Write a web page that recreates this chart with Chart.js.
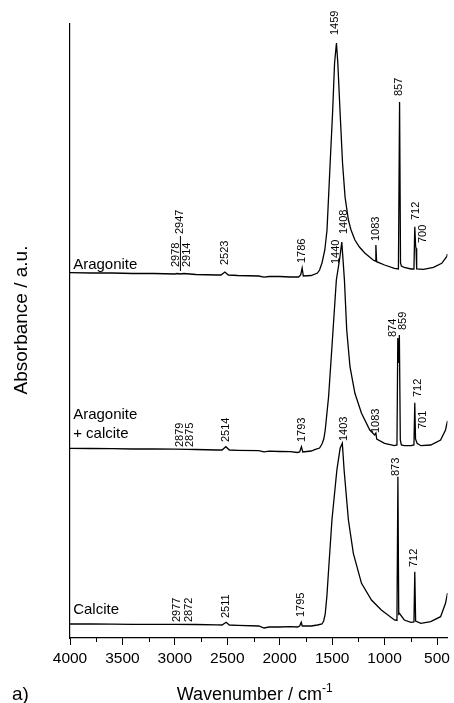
<!DOCTYPE html>
<html>
<head>
<meta charset="utf-8">
<script src="https://cdn.jsdelivr.net/npm/chart.js@4.4.0/dist/chart.umd.min.js"></script>
<style>
  html, body { margin: 0; padding: 0; background: #fff; }
  #wrap { width: 454px; height: 703px; }
</style>
</head>
<body>
<div id="wrap"><canvas id="myChart" width="454" height="703"></canvas></div>
<script>
// spectra (wavenumber / cm-1, absorbance a.u. with the stacking offset)
const aragoniteWn = [4000, 3800, 3600, 3400, 3200, 3000, 2978, 2947, 2914, 2800, 2600, 2560, 2523, 2490, 2400, 2200, 2150, 2100, 2000, 1900, 1820, 1800, 1786, 1775, 1700, 1640, 1620, 1597, 1570, 1549, 1519, 1496, 1477, 1459, 1446, 1424, 1401, 1377, 1345, 1320, 1283, 1240, 1189, 1109, 1090, 1083, 1076, 1000, 906, 868, 857, 848, 840, 812, 748, 720, 712, 704, 700, 694, 628, 534, 455, 408, 400];
const aragoniteAbs = [3.653, 3.65, 3.65, 3.645, 3.645, 3.64, 3.645, 3.64, 3.645, 3.635, 3.63, 3.63, 3.66, 3.63, 3.625, 3.62, 3.608, 3.615, 3.615, 3.61, 3.61, 3.63, 3.70, 3.62, 3.625, 3.65, 3.68, 3.75, 3.88, 4.08, 4.75, 5.25, 5.75, 5.95, 5.75, 5.25, 4.75, 4.41, 4.18, 4.08, 3.98, 3.91, 3.85, 3.78, 3.77, 3.93, 3.763, 3.73, 3.697, 3.69, 5.36, 3.75, 3.72, 3.707, 3.69, 3.69, 4.113, 3.92, 3.897, 3.69, 3.687, 3.707, 3.747, 3.813, 3.84];

const mixedWn = [4000, 3800, 3600, 3400, 3200, 3000, 2879, 2800, 2600, 2550, 2514, 2480, 2400, 2200, 2150, 2100, 2000, 1900, 1830, 1810, 1793, 1780, 1700, 1660, 1620, 1597, 1580, 1566, 1534, 1502, 1460, 1430, 1408, 1383, 1361, 1330, 1283, 1220, 1141, 1095, 1083, 1075, 1000, 906, 882, 874, 866, 859, 850, 840, 812, 748, 720, 712, 705, 690, 654, 560, 466, 419, 400];
const mixedAbs = [1.897, 1.895, 1.893, 1.89, 1.89, 1.888, 1.887, 1.885, 1.88, 1.88, 1.913, 1.88, 1.877, 1.873, 1.862, 1.868, 1.865, 1.863, 1.855, 1.86, 1.913, 1.86, 1.87, 1.887, 1.90, 1.94, 1.99, 2.08, 2.413, 2.913, 3.58, 3.78, 3.96, 3.58, 3.08, 2.713, 2.447, 2.247, 2.08, 2.03, 2.05, 1.99, 1.947, 1.923, 1.93, 3.00, 2.75, 3.03, 1.98, 1.93, 1.923, 1.923, 1.93, 2.353, 1.99, 1.947, 1.923, 1.93, 1.98, 2.08, 2.17];

const calciteWn = [4000, 3800, 3600, 3400, 3200, 3000, 2800, 2600, 2550, 2511, 2480, 2400, 2200, 2150, 2100, 2000, 1900, 1830, 1810, 1795, 1785, 1700, 1640, 1597, 1581, 1566, 1550, 1534, 1502, 1455, 1424, 1403, 1386, 1345, 1298, 1220, 1125, 1031, 906, 882, 873, 865, 859, 812, 748, 720, 712, 704, 654, 560, 466, 419, 400];
const calciteAbs = [0.14, 0.14, 0.138, 0.137, 0.137, 0.137, 0.135, 0.132, 0.13, 0.157, 0.13, 0.127, 0.12, 0.1, 0.11, 0.11, 0.113, 0.11, 0.12, 0.157, 0.12, 0.12, 0.13, 0.14, 0.17, 0.24, 0.42, 0.68, 1.18, 1.68, 1.897, 1.947, 1.68, 1.18, 0.847, 0.547, 0.38, 0.28, 0.18, 0.175, 1.613, 0.24, 0.247, 0.18, 0.157, 0.16, 0.663, 0.17, 0.147, 0.163, 0.213, 0.347, 0.45];

// axis ticks
const xTickValues = [4000, 3500, 3000, 2500, 2000, 1500, 1000, 500];
const xMinorTicks = [3750, 3250, 2750, 2250, 1750, 1250, 750];

// peak labels: text, wavenumber where it stands, absorbance at its lower end
const aragoniteLabels = [['1459', 1474, 6.03], ['857', 862, 5.42], ['712', 701, 4.18], ['700', 638, 3.95], ['1083', 1085, 3.97], ['1786', 1785, 3.75], ['2523', 2523, 3.73], ['2978', 2994, 3.71], ['2947', 2947, 4.04], ['2914', 2885, 3.71]];
const mixedLabels = [['1440', 1460, 3.74], ['1408', 1392, 4.04], ['874', 921, 3.01], ['859', 827, 3.08], ['712', 685, 2.41], ['701', 638, 2.09], ['1083', 1085, 2.05], ['1793', 1785, 1.96], ['2514', 2508, 1.96], ['2879', 2947, 1.91], ['2875', 2860, 1.91]];
const calciteLabels = [['1403', 1392, 1.97], ['873', 890, 1.62], ['712', 717, 0.71], ['1795', 1801, 0.21], ['2511', 2508, 0.20], ['2977', 2979, 0.16], ['2872', 2869, 0.16]];

// sample names
const sampleNames = [['Aragonite', 3.69], ['Aragonite', 2.19], ['+ calcite', 2.00], ['Calcite', 0.24]];
const sampleNameWn = 3970;

const FONT = '"Liberation Sans", Arial, Helvetica, sans-serif';
Chart.defaults.font.family = FONT;
Chart.defaults.color = '#000';

function toPoints(wn, abs) {
    let pts = [];
    for (let i = 0; i < wn.length; i++) {
        pts.push({ x: wn[i], y: abs[i] });
    }
    return pts;
}

const annotations = {
    id: 'annotations',
    afterDatasetsDraw(chart) {
        const { ctx, scales: { x, y } } = chart;
        ctx.save();
        ctx.fillStyle = '#000';
        ctx.strokeStyle = '#000';

        // rotated peak labels
        ctx.font = '11px ' + FONT;
        ctx.textAlign = 'left';
        ctx.textBaseline = 'middle';
        const all = aragoniteLabels.concat(mixedLabels, calciteLabels);
        all.forEach(([t, wn, v]) => {
            ctx.save();
            ctx.translate(x.getPixelForValue(wn), y.getPixelForValue(v));
            ctx.rotate(-Math.PI / 2);
            ctx.fillText(t, 0, 0);
            ctx.restore();
        });

        // leader line under 2947
        ctx.lineWidth = 1;
        ctx.beginPath();
        ctx.moveTo(x.getPixelForValue(2947), y.getPixelForValue(4.02));
        ctx.lineTo(x.getPixelForValue(2947), y.getPixelForValue(3.67));
        ctx.stroke();

        // sample names
        ctx.font = '15px ' + FONT;
        ctx.textBaseline = 'alphabetic';
        sampleNames.forEach(([t, v]) => {
            ctx.fillText(t, x.getPixelForValue(sampleNameWn), y.getPixelForValue(v));
        });

        // minor ticks
        ctx.lineWidth = 1;
        xMinorTicks.forEach(m => {
            const px = Math.round(x.getPixelForValue(m)) + 0.5;
            ctx.beginPath();
            ctx.moveTo(px, x.top);
            ctx.lineTo(px, x.top + 4);
            ctx.stroke();
        });

        // x title with superscript
        const cx = (chart.chartArea.left + chart.chartArea.right) / 2 - 4;
        const base = 700;
        ctx.font = '18px ' + FONT;
        const main = 'Wavenumber / cm';
        const w1 = ctx.measureText(main).width;
        ctx.font = '12px ' + FONT;
        const w2 = ctx.measureText('-1').width;
        const start = cx - (w1 + w2) / 2;
        ctx.font = '18px ' + FONT;
        ctx.fillText(main, start, base);
        ctx.font = '12px ' + FONT;
        ctx.fillText('-1', start + w1, base - 8);

        ctx.font = '19px ' + FONT;
        ctx.fillText('a)', 12, base);

        // y title
        ctx.save();
        ctx.font = '19px ' + FONT;
        ctx.textAlign = 'center';
        ctx.textBaseline = 'middle';
        ctx.translate(22, 320);
        ctx.rotate(-Math.PI / 2);
        ctx.fillText('Absorbance / a.u.', 0, 0);
        ctx.restore();

        ctx.restore();
    }
};

const chartContext = document.getElementById('myChart').getContext('2d');
const myChart = new Chart(chartContext, {
    type: 'line',
    data: {
        datasets: [
            { label: 'Aragonite', data: toPoints(aragoniteWn, aragoniteAbs) },
            { label: 'Aragonite + calcite', data: toPoints(mixedWn, mixedAbs) },
            { label: 'Calcite', data: toPoints(calciteWn, calciteAbs) }
        ]
    },
    options: {
        responsive: false,
        devicePixelRatio: 1,
        animation: false,
        parsing: false,
        layout: { padding: { top: 24, right: 2, left: 0, bottom: 0 }, autoPadding: false },
        elements: {
            line: { borderColor: '#000', borderWidth: 1.3, tension: 0 },
            point: { radius: 0 }
        },
        plugins: {
            legend: { display: false },
            tooltip: { enabled: false }
        },
        scales: {
            x: {
                type: 'linear',
                reverse: true,
                min: 400,
                max: 4000,
                afterBuildTicks: (s) => { s.ticks = xTickValues.map(v => ({ value: v })); },
                afterFit: (s) => { s.height = 65; },
                ticks: {
                    callback: (v) => String(v),
                    font: { size: 15.5 },
                    padding: 4,
                    maxRotation: 0,
                    autoSkip: false
                },
                grid: { display: true, drawOnChartArea: false, drawTicks: true, tickLength: 7, color: '#000', tickWidth: 1 },
                border: { display: true, color: '#000', width: 1.2 }
            },
            y: {
                min: 0,
                max: 6.14,
                afterFit: (s) => { s.width = 70; },
                ticks: { display: false },
                grid: { display: false },
                border: { display: true, color: '#000', width: 1.2 }
            }
        }
    },
    plugins: [annotations]
});
</script>
</body>
</html>
